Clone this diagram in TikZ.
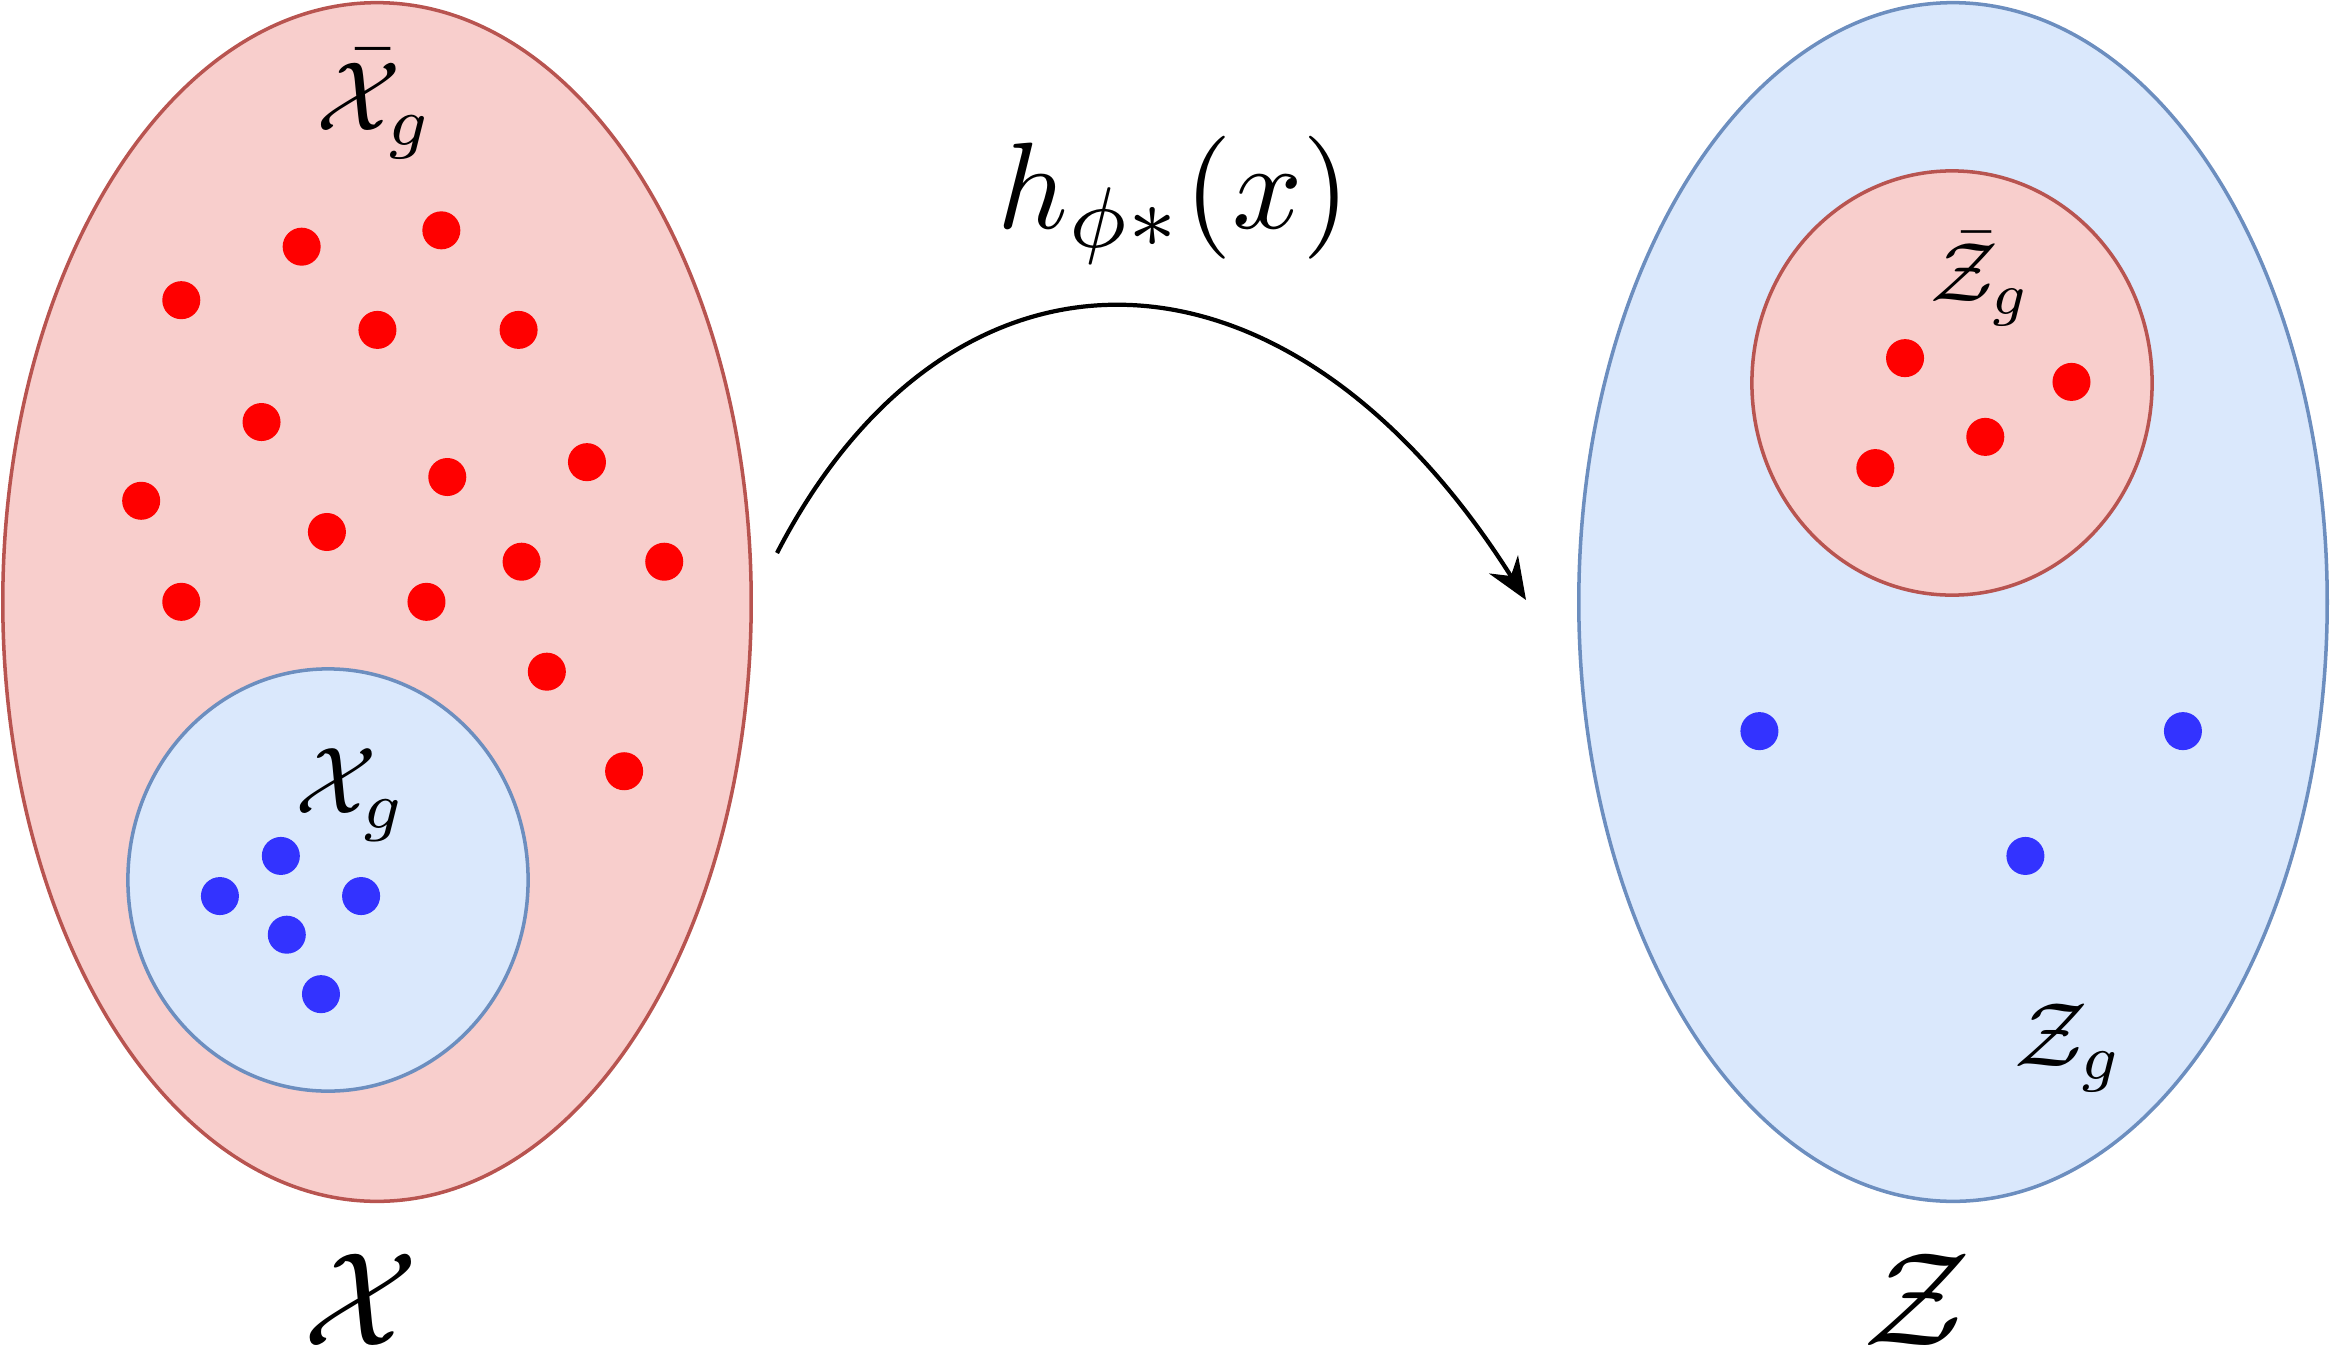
\documentclass[tikz,border=0pt]{standalone}
\usepackage{amsmath,amssymb}
\usepackage{tikz}
\usetikzlibrary{arrows.meta}
\usepackage{xcolor}
\definecolor{setred}{HTML}{F8CECC}
\definecolor{edgered}{HTML}{B85450}
\definecolor{setblue}{HTML}{DAE8FC}
\definecolor{edgeblue}{HTML}{6C8EBF}
\definecolor{dotred}{HTML}{FF0000}
\definecolor{dotblue}{HTML}{3333FF}
\tikzset{
  redset/.style={fill=setred,draw=edgered,line width=1pt},
  blueset/.style={fill=setblue,draw=edgeblue,line width=1pt},
  lbl/.style={inner sep=0pt},
}
\begin{document}
\begin{tikzpicture}[x={(0.01cm,0)},y={(0,-0.01cm)},>=Stealth]
\useasboundingbox (0,0) rectangle (2330,1360);
% input space
\draw[redset] (377,602) ellipse [x radius=3.74cm, y radius=5.99cm];
\draw[blueset] (328,880) ellipse [x radius=2.0cm, y radius=2.11cm];
% latent space
\draw[blueset] (1953,602) ellipse [x radius=3.74cm, y radius=5.99cm];
\draw[redset] (1952,383) ellipse [x radius=2.0cm, y radius=2.12cm];
% samples
\foreach \px/\py in {203/166,297/155,122/202,254/222,349/222,176/284,301/321,395/311,95/337,220/358,351/378,447/378,122/405,287/405,368/452,420/519}
  \fill[dotred] ({\px*1.486},{\py*1.486}) circle (0.19cm);
\foreach \px/\py in {189/576,148/603,243/603,193/629,216/669}
  \fill[dotblue] ({\px*1.486},{\py*1.486}) circle (0.19cm);
\foreach \px/\py in {1282/241,1394/257,1336/294,1262/315}
  \fill[dotred] ({\px*1.486},{\py*1.486}) circle (0.19cm);
\foreach \px/\py in {1184/492,1469/492,1363/576}
  \fill[dotblue] ({\px*1.486},{\py*1.486}) circle (0.19cm);
% labels
\node[lbl,scale=2.8] (xbarg) at (375,104) {$\bar{\mathcal{X}}_g$};
\node[lbl,scale=2.7] (xg) at (351,795) {$\mathcal{X}_g$};
\node[lbl,scale=2.4] (zbarg) at (1981,279) {$\bar{\mathcal{Z}}_g$};
\node[lbl,scale=2.6] (zg) at (2069,1048) {$\mathcal{Z}_g$};
\node[lbl,scale=3.8] (xspace) at (361,1300) {$\mathcal{X}$};
\node[lbl,scale=3.8] (zspace) at (1917,1300) {$\mathcal{Z}$};
\node[lbl,scale=3.5] (encoder) at (1174,200) {$h_{\phi*}(x)$};
% mapping
\coordinate (mapstart) at (777,553);
\coordinate (mapend) at (1526,600);
\draw[line width=1.2pt,-{Stealth[length=0.42cm,width=0.34cm]}] (mapstart) .. controls (950,218) and (1285,218) .. (mapend);
\end{tikzpicture}
\end{document}
